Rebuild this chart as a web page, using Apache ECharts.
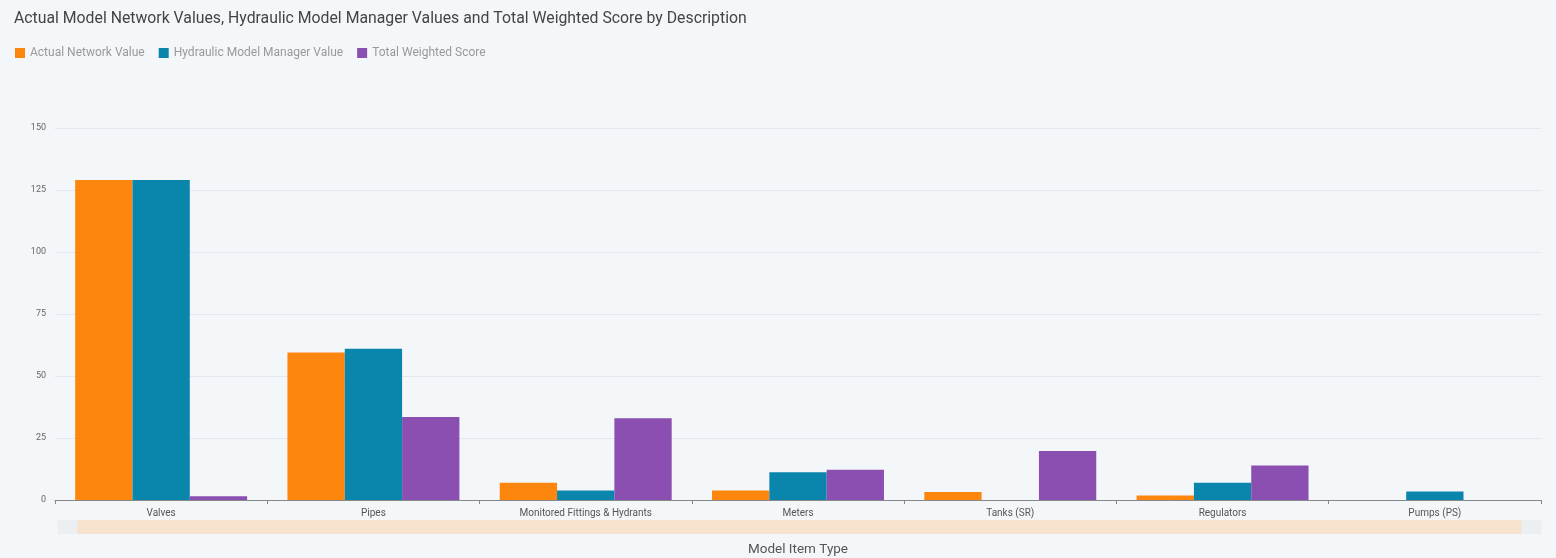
<!DOCTYPE html>
<html lang="en">
<head>
    <meta charset="UTF-8">
    <title>Model Item Type</title>
    <script src="https://cdn.jsdelivr.net/npm/echarts@6/dist/echarts.min.js"></script>
    <style>
        html, body { margin: 0; padding: 0; background: #f4f7fa; }
    </style>
</head>
<body>
<div id="main" style="width: 1556px;height:558px;"></div>

<script type="text/javascript">
    // categories
    var categories = ['Valves', 'Pipes', 'Monitored Fittings & Hydrants', 'Meters', 'Tanks (SR)', 'Regulators', 'Pumps (PS)'];
    // series values
    var actualNetwork = [129, 59.5, 7, 3.8, 3.2, 1.8, 0];
    var hydraulicManager = [129, 61, 3.8, 11.2, 0, 7, 3.4];
    var totalWeighted = [1.5, 33.5, 33, 12.2, 19.8, 13.9, 0];
    var yTicks = [0, 150, 25];   // min, max, interval

    var seriesNames = ['Actual Network Value', 'Hydraulic Model Manager Value', 'Total Weighted Score'];
    var colors = ['#fd860f', '#0a86ad', '#8a4fb1'];

    var chart = echarts.init(document.getElementById('main'));
    var option = {
        animation: false,
        backgroundColor: '#f4f7fa',
        color: colors,
        textStyle: { fontFamily: 'Roboto' },
        title: {
            text: 'Actual Model Network Values, Hydraulic Model Manager Values and Total Weighted Score by Description',
            left: 9,
            top: 6,
            textStyle: { fontSize: 15.8, fontWeight: 'normal', color: '#444' }
        },
        legend: {
            left: 10,
            top: 42,
            icon: 'rect',
            itemWidth: 10,
            itemHeight: 10,
            itemGap: 14,
            textStyle: { fontSize: 12, color: '#999' },
            data: seriesNames
        },
        grid: {
            left: 55,
            right: 15,
            top: 128,
            bottom: 58,
            outerBoundsMode: 'none'
        },
        xAxis: {
            type: 'category',
            data: categories,
            name: 'Model Item Type',
            nameLocation: 'middle',
            nameGap: 43,
            nameTextStyle: { fontSize: 13.5, color: '#555' },
            axisLine: { lineStyle: { color: '#888' } },
            axisTick: { show: true, length: 4, lineStyle: { color: '#888' } },
            axisLabel: { fontSize: 10, color: '#555', margin: 8 }
        },
        yAxis: {
            type: 'value',
            min: yTicks[0],
            max: yTicks[1],
            interval: yTicks[2],
            axisLine: { show: false },
            axisTick: { show: false },
            axisLabel: { fontSize: 9, color: '#666', margin: 9 },
            splitLine: { lineStyle: { color: '#e3e7eb' } }
        },
        dataZoom: [{
            type: 'slider',
            xAxisIndex: 0,
            start: 0,
            end: 100,
            left: 65,
            right: 25,
            top: 520,
            height: 14,
            showDetail: false,
            showDataShadow: false,
            brushSelect: false,
            moveHandleSize: 0,
            borderColor: 'transparent',
            backgroundColor: '#eceff2',
            fillerColor: '#f6e2cd',
            handleIcon: 'path://M0,0H20V14H0Z',
            handleSize: 20,
            handleStyle: { color: '#eceff2', borderColor: 'transparent' },
            emphasis: { handleStyle: { color: '#eceff2', borderColor: 'transparent' } }
        }],
        series: [
            { name: seriesNames[0], type: 'bar', data: actualNetwork, barGap: 0, barCategoryGap: '19%' },
            { name: seriesNames[1], type: 'bar', data: hydraulicManager, barGap: 0, barCategoryGap: '19%' },
            { name: seriesNames[2], type: 'bar', data: totalWeighted, barGap: 0, barCategoryGap: '19%' }
        ]
    };
    chart.setOption(option);
</script>

</body>
</html>
